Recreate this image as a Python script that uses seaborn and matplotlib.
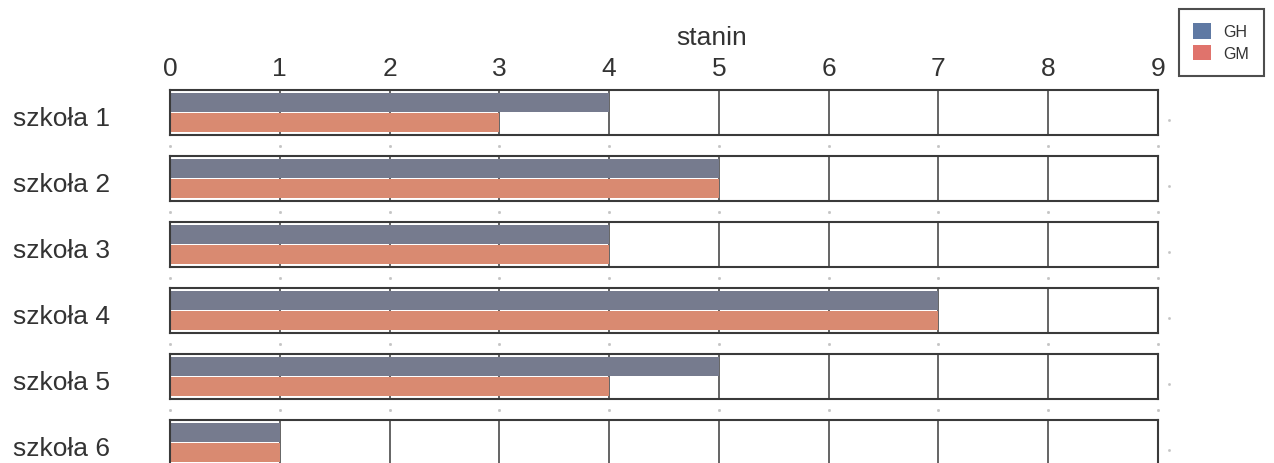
import pandas as pd
import matplotlib.pyplot as plt
import seaborn as sns
import numpy as np
from matplotlib.patches import Patch
import matplotlib.transforms as mtransforms

# stanin per school
schools = ['szkoła 1', 'szkoła 2', 'szkoła 3', 'szkoła 4', 'szkoła 5', 'szkoła 6']
gh = [4, 5, 4, 7, 5, 1]
gm = [3, 5, 4, 7, 4, 1]
series = ['GH', 'GM']
stanin_ticks = list(range(10))

df = pd.DataFrame({
    'school': schools * 2,
    'series': ['GH'] * len(schools) + ['GM'] * len(schools),
    'value': gh + gm,
})

sns.set_theme(style='white')
plt.rcParams['font.family'] = ['Liberation Sans', 'DejaVu Sans']

bar_colors = {'GH': '#767b8e', 'GM': '#d98a71'}
legend_colors = {'GH': '#5f79a3', 'GM': '#e0736c'}

W, H = 1274, 464
fig = plt.figure(figsize=(W / 100, H / 100), dpi=100)

for i, school in enumerate(schools):
    top = 91 + 66 * i
    ax = fig.add_axes([170 / W, 1 - (top + 45) / H, 988 / W, 45 / H])
    sub = df[df['school'] == school]
    sns.barplot(data=sub, x='value', y='school', hue='series', hue_order=series,
                palette=bar_colors, saturation=1, orient='h', width=0.86, gap=0.03,
                edgecolor='none', linewidth=0, legend=False, ax=ax)
    ax.set_xlim(0, 9)
    ax.set_ylim(0.5, -0.5)
    ax.set_xticks(stanin_ticks)
    ax.grid(axis='x', color='#4a4a4a', lw=1.2)
    ax.set_axisbelow(True)
    for s in ax.spines.values():
        s.set_color('#3a3a3a')
        s.set_linewidth(1.5)
    ax.set_yticks([])
    ax.tick_params(axis='x', length=0)
    ax.set_ylabel(school, rotation=0, ha='left', va='center', fontsize=19, color='#333333')
    ax.yaxis.set_label_coords(-157 / 988, 0.38)
    if i == 0:
        ax.xaxis.tick_top()
        ax.xaxis.set_label_position('top')
        ax.tick_params(axis='x', labelsize=19, labelcolor='#333333', pad=7)
        ax.set_xlabel('stanin', fontsize=19, color='#333333', va='center')
        ax.xaxis.set_label_coords((712 - 170) / 988, 1 + 53 / 45)
    else:
        ax.set_xticklabels([])
        ax.set_xlabel('')
    # faint tick dots under each panel
    trans = mtransforms.blended_transform_factory(ax.transData, ax.transAxes)
    ax.plot(stanin_ticks, [-0.25] * len(stanin_ticks), transform=trans, ls='none',
            marker='s', ms=1.0, color='#c4c4c4', clip_on=False)
    ax.plot([9.1], [0.33], transform=trans, ls='none', marker='s', ms=0.9,
            color='#c4c4c4', clip_on=False)

handles = [Patch(facecolor=legend_colors[s], edgecolor='none', label=s) for s in series]
leg = fig.legend(handles=handles, loc='upper left', bbox_to_anchor=(1179 / W, 1 - 10 / H),
                 fontsize=11.5, frameon=True, fancybox=False, handlelength=1.1,
                 handleheight=1.1, borderpad=0.9, labelspacing=0.35, handletextpad=0.8,
                 borderaxespad=0)
leg.get_frame().set_edgecolor('#222222')
leg.get_frame().set_linewidth(1.5)
for t in leg.get_texts():
    t.set_color('#333333')

plt.savefig('out.png', dpi=100)
